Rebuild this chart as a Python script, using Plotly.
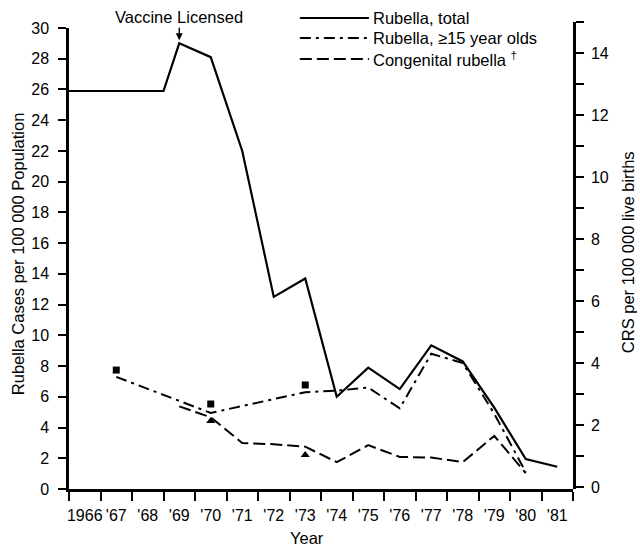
import plotly.graph_objects as go

# Year bands on the x axis (one band per year, labels centred in the band)
years = list(range(1966, 1982))
year_labels = ["1966"] + ["'" + str(y)[2:] for y in years[1:]]

# Reported rubella, all ages, cases per 100 000 population.
# The 1966-68 pre-licensure average is drawn across its three year bands.
total_years = [1965.5, 1968.5, 1969, 1970, 1971, 1972, 1973, 1974, 1975,
               1976, 1977, 1978, 1979, 1980, 1981]
total_rate = [25.9, 25.9, 29.0, 28.1, 22.0, 12.5, 13.7, 6.0, 7.9,
              6.5, 9.35, 8.3, 5.3, 1.95, 1.45]

# Rubella among persons 15 years of age and older, per 100 000
adult_years = [1967, 1970, 1973, 1974, 1975, 1976, 1977, 1978, 1979, 1980]
adult_rate = [7.3, 4.95, 6.3, 6.4, 6.6, 5.25, 8.8, 8.2, 4.9, 1.1]

# Congenital rubella syndrome, per 100 000 live births (right axis)
crs_years = list(range(1969, 1981))
crs_rate = [2.6, 2.25, 1.42, 1.38, 1.3, 0.8, 1.35, 0.97, 0.95, 0.8, 1.65, 0.45]

# Single-year reference points
square_years = [1967, 1970, 1973]
square_rate = [7.74, 5.53, 6.77]
triangle_years = [1970, 1973]
triangle_rate = [2.13, 1.03]

# Axis tick values
left_ticks = list(range(0, 31, 2))
right_major = list(range(0, 16, 2))
right_minor = list(range(1, 16, 2))

FONT = "Liberation Sans, Arial, Helvetica, sans-serif"
INK = "black"
DASH = "12px,5px"
DASHDOT = "11px,5px,3px,5px"

fig = go.Figure()

fig.add_trace(go.Scatter(
    x=total_years, y=total_rate, mode="lines", yaxis="y",
    line=dict(color=INK, width=2.2), name="Rubella, total", showlegend=False))
fig.add_trace(go.Scatter(
    x=adult_years, y=adult_rate, mode="lines", yaxis="y",
    line=dict(color=INK, width=2, dash=DASHDOT),
    name="Rubella, ≥15 year olds", showlegend=False))
fig.add_trace(go.Scatter(
    x=crs_years, y=crs_rate, mode="lines", yaxis="y2",
    line=dict(color=INK, width=2, dash=DASH),
    name="Congenital rubella", showlegend=False))
fig.add_trace(go.Scatter(
    x=square_years, y=square_rate, mode="markers", yaxis="y",
    marker=dict(symbol="square", size=7, color=INK), showlegend=False))
fig.add_trace(go.Scatter(
    x=triangle_years, y=triangle_rate, mode="markers", yaxis="y2",
    marker=dict(symbol="triangle-up", size=8, color=INK), showlegend=False))

boundaries = [y - 0.5 for y in years] + [years[-1] + 0.5]

fig.update_layout(
    width=640, height=546,
    margin=dict(l=69, r=67, t=22, b=57, pad=0),
    paper_bgcolor="white", plot_bgcolor="rgba(0,0,0,0)",
    font=dict(family=FONT, size=16, color=INK),
    xaxis=dict(
        range=[1965.5, 1981.5], showgrid=False, zeroline=False,
        showline=True, linewidth=2.5, linecolor=INK,
        tickmode="array", tickvals=years, ticktext=year_labels,
        ticks="outside", ticklen=10, tickcolor="rgba(0,0,0,0)",
        tickfont=dict(size=16),
        minor=dict(tickmode="array", tickvals=boundaries, ticks="outside",
                   ticklen=9, tickwidth=2, tickcolor=INK),
    ),
    yaxis=dict(
        domain=[0, 0.9872], range=[0, 30], showgrid=False, zeroline=False,
        showline=True, linewidth=2.5, linecolor=INK,
        tickmode="array", tickvals=left_ticks,
        ticks="outside", ticklen=8, tickwidth=2, tickcolor=INK,
        ticklabelstandoff=6, tickfont=dict(size=16),
    ),
    yaxis2=dict(
        domain=[0, 1], anchor="x", side="right", range=[-0.0645, 15],
        showgrid=False, zeroline=False,
        showline=True, linewidth=2.5, linecolor=INK,
        tickmode="array", tickvals=right_major,
        ticks="outside", ticklen=8, tickwidth=2, tickcolor=INK,
        ticklabelstandoff=4, tickfont=dict(size=16),
        minor=dict(tickmode="array", tickvals=right_minor, ticks="outside",
                   ticklen=8, tickwidth=2, tickcolor=INK),
    ),
)

# Axis titles
fig.add_annotation(text="Rubella Cases per 100 000 Population", xref="paper", yref="paper",
                   x=-0.101, y=0.503, xanchor="center", yanchor="middle",
                   textangle=-90, showarrow=False, font=dict(size=16.5))
fig.add_annotation(text="CRS per 100 000 live births", xref="paper", yref="paper",
                   x=1.109, y=0.507, xanchor="center", yanchor="middle",
                   textangle=-90, showarrow=False, font=dict(size=16.5))
fig.add_annotation(text="Year", xref="paper", yref="paper",
                   x=0.472, y=-0.105, xanchor="center", yanchor="middle",
                   showarrow=False, font=dict(size=16.5))

# Licensure label with arrow pointing at the 1969 peak
fig.add_annotation(x=1969, y=total_rate[2], xref="x", yref="y",
                   text="Vaccine Licensed", showarrow=True, ax=0, ay=-26,
                   arrowhead=2, arrowsize=1, arrowwidth=1.4, arrowcolor=INK,
                   standoff=3, font=dict(size=16.5))

# Legend keys
legend_rows = [
    ("Rubella, total", "solid", 1.0086),
    ("Rubella, ≥15 year olds", DASHDOT, 0.9657),
    ("Congenital rubella <sup>†</sup>", DASH, 0.921),
]
for label, dash, ypos in legend_rows:
    fig.add_shape(type="line", xref="paper", yref="paper",
                  x0=0.458, x1=0.595, y0=ypos, y1=ypos,
                  line=dict(color=INK, width=2, dash=dash))
    fig.add_annotation(text=label, xref="paper", yref="paper",
                       x=0.599, y=ypos, xanchor="left", yanchor="middle",
                       showarrow=False, font=dict(size=16.5))

fig.write_html("out.html")
